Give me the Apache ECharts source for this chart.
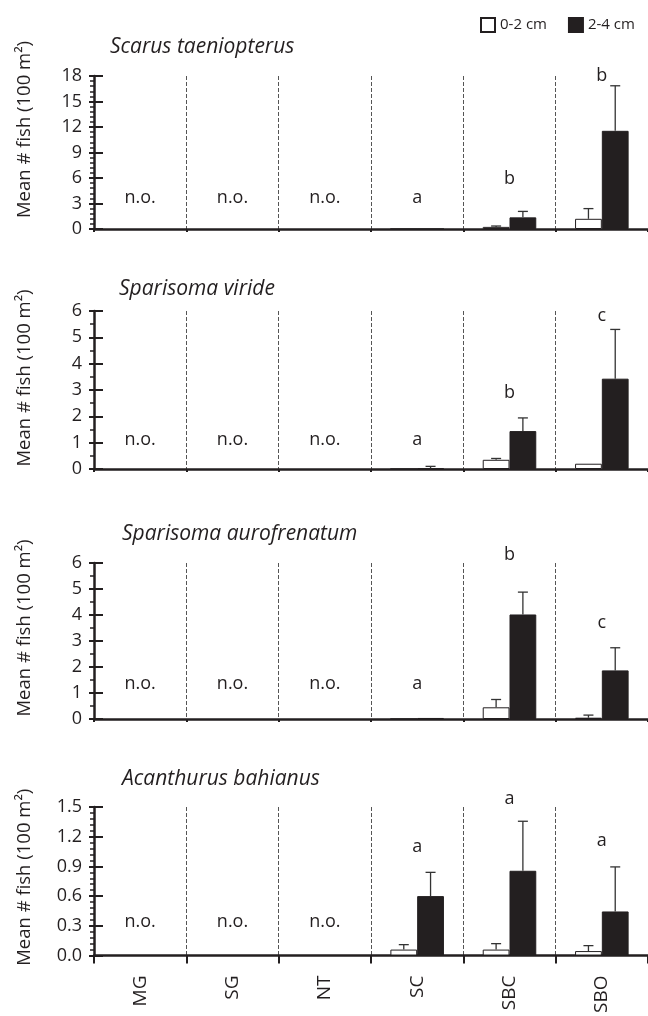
<!DOCTYPE html>
<html>
<head>
<meta charset="utf-8">
<script src="https://cdn.jsdelivr.net/npm/echarts@6/dist/echarts.min.js"></script>
<style>
html,body{margin:0;padding:0;background:#fff;}
#chart{width:648px;height:1016px;}
</style>
</head>
<body>
<div id="chart"></div>
<script>
// ---- data ----
const categories = ["MG", "SG", "NT", "SC", "SBC", "SBO"];
const sizeClasses = ["0-2 cm", "2-4 cm"];
const speciesNames = ["Scarus taeniopterus", "Sparisoma viride", "Sparisoma aurofrenatum", "Acanthurus bahianus"];

const scarusSmall    = [null, null, null, 0, 0.25, 1.2];
const scarusSmallErr = [0, 0, 0, 0, 0.1, 1.2];
const scarusLarge    = [null, null, null, 0, 1.37, 11.55];
const scarusLargeErr = [0, 0, 0, 0, 0.7, 5.3];
const scarusLetters  = ["n.o.", "n.o.", "n.o.", "a", "b", "b"];
const scarusLetterY  = [3.7, 3.7, 3.7, 3.7, 5.9, 18.0];

const viridSmall     = [null, null, null, 0, 0.35, 0.2];
const viridSmallErr  = [0, 0, 0, 0, 0.05, 0];
const viridLarge     = [null, null, null, 0.02, 1.44, 3.43];
const viridLargeErr  = [0, 0, 0, 0.08, 0.5, 1.87];
const viridLetters   = ["n.o.", "n.o.", "n.o.", "a", "b", "c"];
const viridLetterY   = [1.1, 1.1, 1.1, 1.1, 2.9, 5.8];

const auroSmall      = [null, null, null, 0, 0.45, 0.05];
const auroSmallErr   = [0, 0, 0, 0, 0.3, 0.1];
const auroLarge      = [null, null, null, 0.04, 4.02, 1.87];
const auroLargeErr   = [0, 0, 0, 0, 0.86, 0.87];
const auroLetters    = ["n.o.", "n.o.", "n.o.", "a", "b", "c"];
const auroLetterY    = [1.35, 1.35, 1.35, 1.35, 6.3, 3.7];

const acanSmall      = [null, null, null, 0.06, 0.06, 0.045];
const acanSmallErr   = [0, 0, 0, 0.05, 0.06, 0.055];
const acanLarge      = [null, null, null, 0.6, 0.856, 0.445];
const acanLargeErr   = [0, 0, 0, 0.24, 0.5, 0.45];
const acanLetters    = ["n.o.", "n.o.", "n.o.", "a", "a", "a"];
const acanLetterY    = [0.34, 0.34, 0.34, 1.1, 1.58, 1.16];

const yMax       = [18, 6, 6, 1.5];
const yInterval  = [3, 1, 1, 0.3];
const ySplit     = [5, 2, 2, 5];
const yDecimals  = [0, 0, 0, 1];

// ---- layout ----
const FONT = "Open Sans";
const panels = [
  {small: scarusSmall, smallErr: scarusSmallErr, large: scarusLarge, largeErr: scarusLargeErr, letters: scarusLetters, letterY: scarusLetterY},
  {small: viridSmall, smallErr: viridSmallErr, large: viridLarge, largeErr: viridLargeErr, letters: viridLetters, letterY: viridLetterY},
  {small: auroSmall, smallErr: auroSmallErr, large: auroLarge, largeErr: auroLargeErr, letters: auroLetters, letterY: auroLetterY},
  {small: acanSmall, smallErr: acanSmallErr, large: acanLarge, largeErr: acanLargeErr, letters: acanLetters, letterY: acanLetterY}
];
const gridTops = [76, 311, 563, 807];
const gridHeights = [153, 158, 156, 156];
const titleTops = [32, 274, 519, 764];
const titleLefts = [105, 114, 117, 117];
const nameShift = [23, 12, 13, 4];
const BAR_FRAC = 0.29;
const BLACK = "#231f20";

const grids = [], xAxes = [], yAxes = [], series = [], titles = [];

panels.forEach((p, i) => {
  const last = i === panels.length - 1;
  grids.push({left: 94, right: -4, top: gridTops[i], height: gridHeights[i]});
  titles.push({
    text: speciesNames[i], left: titleLefts[i], top: titleTops[i],
    textStyle: {fontFamily: FONT, fontStyle: "italic", fontWeight: "normal", fontSize: 21, color: BLACK}
  });
  xAxes.push({
    type: "category", gridIndex: i, data: categories, boundaryGap: true,
    axisLine: {lineStyle: {color: BLACK, width: 2.5}},
    axisTick: {show: true, interval: 0, length: last ? 8 : 3, lineStyle: {color: BLACK, width: 2}},
    axisLabel: last ? {show: true, rotate: 90, margin: 20, fontFamily: FONT, fontSize: 19, color: BLACK, interval: 0} : {show: false},
    splitLine: {show: true, interval: 0, lineStyle: {color: "#555", width: 1, type: [4, 2]}}
  });
  const common = {
    type: "value", gridIndex: i, position: "left", min: 0, max: yMax[i], interval: yInterval[i]
  };
  yAxes.push(Object.assign({}, common, {
    name: "Mean # fish (100 m²)", nameLocation: "middle", nameGap: 60,
    nameTextStyle: {fontFamily: FONT, fontSize: 18.5, color: BLACK, padding: [0, 0, 0, 2 * nameShift[i]]},
    axisLine: {show: true, lineStyle: {color: BLACK, width: 2.5}},
    axisTick: {show: true, inside: false, length: 5, lineStyle: {color: BLACK, width: 2}},
    minorTick: {show: true, splitNumber: ySplit[i], length: 4, lineStyle: {color: BLACK, width: 1.5}},
    axisLabel: {margin: 12, fontFamily: FONT, fontSize: 18, color: BLACK,
      formatter: v => v.toFixed(yDecimals[i])},
    splitLine: {show: false}
  }));
  yAxes.push(Object.assign({}, common, {
    axisLine: {show: false},
    axisTick: {show: true, inside: true, length: 9, lineStyle: {color: BLACK, width: 2}},
    axisLabel: {show: false},
    splitLine: {show: false}
  }));
  const yIdx = i * 2;
  series.push({
    name: sizeClasses[0], type: "bar", xAxisIndex: i, yAxisIndex: yIdx,
    data: p.small, barWidth: (BAR_FRAC * 100) + "%", barGap: "0%",
    itemStyle: {color: "#ffffff", borderColor: BLACK, borderWidth: 1}
  });
  series.push({
    name: sizeClasses[1], type: "bar", xAxisIndex: i, yAxisIndex: yIdx,
    data: p.large, barWidth: (BAR_FRAC * 100) + "%", barGap: "0%",
    itemStyle: {color: BLACK, borderColor: BLACK, borderWidth: 1}
  });
  const errData = [];
  categories.forEach((c, k) => {
    if (p.small[k] != null && p.smallErr[k] > 0) errData.push([k, p.small[k], p.smallErr[k], -1]);
    if (p.large[k] != null && p.largeErr[k] > 0) errData.push([k, p.large[k], p.largeErr[k], 1]);
  });
  series.push({
    type: "custom", xAxisIndex: i, yAxisIndex: yIdx, data: errData, z: 5, silent: true,
    renderItem: function (params, api) {
      const k = api.value(0), v = api.value(1), e = api.value(2), side = api.value(3);
      const base = api.coord([k, v]);
      const top = api.coord([k, v + e]);
      const w = api.size([1, 0])[0];
      const x = base[0] + side * w * BAR_FRAC / 2;
      const style = {stroke: "#333", lineWidth: 1.3};
      return {type: "group", children: [
        {type: "line", shape: {x1: x, y1: base[1], x2: x, y2: top[1]}, style: style},
        {type: "line", shape: {x1: x - 5, y1: top[1], x2: x + 5, y2: top[1]}, style: style}
      ]};
    }
  });
  series.push({
    type: "scatter", xAxisIndex: i, yAxisIndex: yIdx, symbolSize: 0, clip: false, silent: true,
    itemStyle: {opacity: 1},
    data: p.letters.map((t, k) => ({value: [k, p.letterY[k]], name: t})),
    label: {show: true, position: "inside", formatter: d => d.name,
      fontFamily: FONT, fontSize: 18, color: BLACK, opacity: 1}
  });
});

const chart = echarts.init(document.getElementById("chart"));
chart.setOption({
  animation: false,
  backgroundColor: "#ffffff",
  title: titles,
  legend: {
    data: sizeClasses, orient: "horizontal", left: 480, top: 17, width: 170,
    itemWidth: 14, itemHeight: 14, itemGap: 21, padding: 0,
    icon: "rect",
    textStyle: {fontFamily: FONT, fontSize: 15, color: BLACK}
  },
  grid: grids, xAxis: xAxes, yAxis: yAxes, series: series
});
</script>
</body>
</html>
